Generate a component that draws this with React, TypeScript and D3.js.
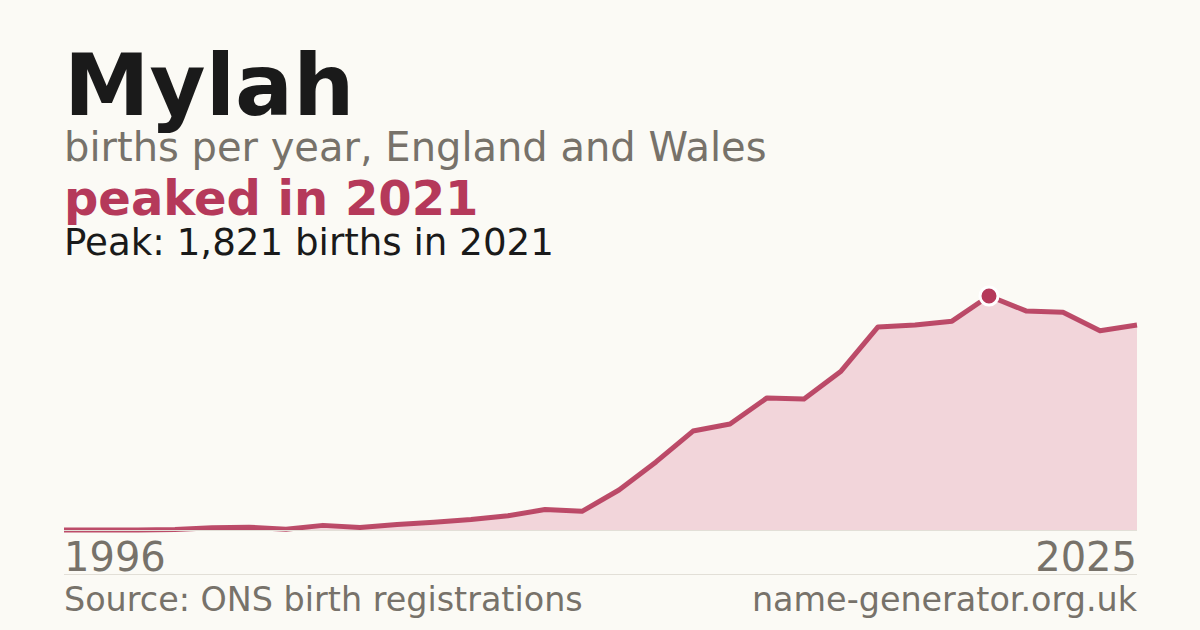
import * as d3 from "d3";

const years = d3.range(1996, 2026);
const births = [
  0, 0, 0, 3, 17, 22, 6, 36, 20, 42,
  61, 81, 111, 159, 145, 311, 530, 770, 825, 1028,
  1020, 1236, 1580, 1595, 1625, 1821, 1705, 1695, 1550, 1595,
];
const peakYear = 2021;

const W = 1200;
const H = 630;
const FONT = "DejaVu Sans, sans-serif";
const INK = "#1a1a1a";
const GREY = "#77726a";
const ACCENT = "#b5395a";

export default function App() {
  const x = d3.scaleLinear().domain([years[0], years[years.length - 1]]).range([64, 1137]);
  const y = d3.scaleLinear().domain([0, d3.max(births) as number]).range([530, 296]);

  const pts: [number, number][] = years.map((yr, i) => [yr, births[i]]);
  const line = d3.line<[number, number]>().x((d) => x(d[0])).y((d) => y(d[1]));
  const area = d3
    .area<[number, number]>()
    .x((d) => x(d[0]))
    .y0(y(0))
    .y1((d) => y(d[1]));

  const peakIdx = years.indexOf(peakYear);
  const peakVal = births[peakIdx];

  return (
    <svg
      width={W}
      height={H}
      viewBox={`0 0 ${W} ${H}`}
      style={{ position: "absolute", left: 0, top: 0, display: "block" }}
      fontFamily={FONT}
    >
      <rect width={W} height={H} fill="#fbfaf5" />

      <text x={64} y={115} fontSize={86} fontWeight="bold" fill={INK}>
        Mylah
      </text>
      <text x={64} y={161} fontSize={40} fill={GREY}>
        births per year, England and Wales
      </text>
      <text x={64} y={215} fontSize={48} fontWeight="bold" fill={ACCENT}>
        peaked in {peakYear}
      </text>
      <text x={64} y={255} fontSize={37.2} fill={INK}>
        Peak: {d3.format(",")(peakVal)} births in {peakYear}
      </text>

      <path d={area(pts) ?? ""} fill="#f2d5da" />
      <path
        d={line(pts) ?? ""}
        fill="none"
        stroke={ACCENT}
        strokeOpacity={0.9}
        strokeWidth={5}
        strokeLinejoin="round"
      />
      <line x1={64} x2={1137} y1={530.5} y2={530.5} stroke="#e2dfd7" strokeWidth={1} />
      <circle cx={x(peakYear)} cy={y(peakVal)} r={9} fill={ACCENT} stroke="#ffffff" strokeWidth={3} />

      <text x={64} y={571} fontSize={40} fill={GREY}>
        {years[0]}
      </text>
      <text x={1137} y={571} fontSize={40} fill={GREY} textAnchor="end">
        {years[years.length - 1]}
      </text>

      <line x1={64} x2={1137} y1={574.5} y2={574.5} stroke="#e2dfd7" strokeWidth={1} />

      <text x={64} y={611} fontSize={33.4} fill={GREY}>
        Source: ONS birth registrations
      </text>
      <text x={1137} y={611} fontSize={33.4} fill={GREY} textAnchor="end">
        name-generator.org.uk
      </text>
    </svg>
  );
}
